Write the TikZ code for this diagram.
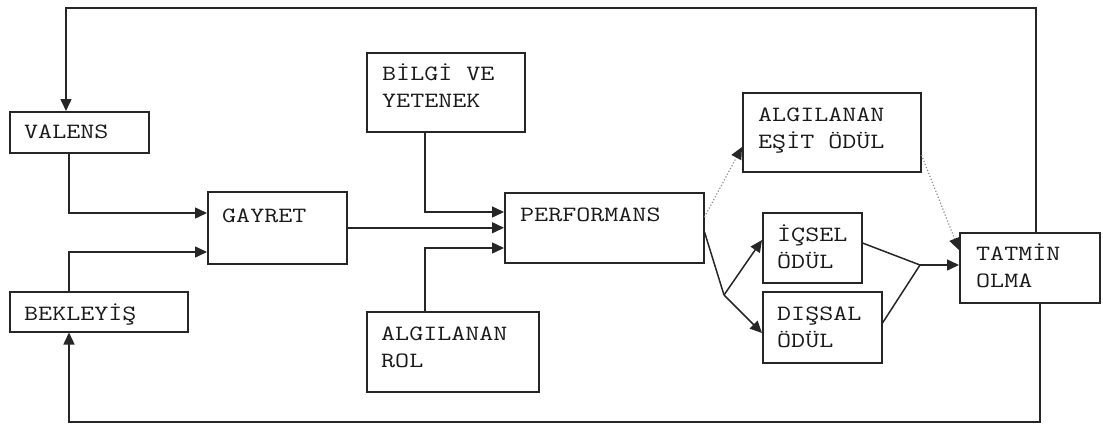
\documentclass[tikz,border=0pt]{standalone}
\usepackage{fontspec}
\newfontfamily\diagfont[FakeStretch=1.25]{Latin Modern Mono}
\usetikzlibrary{arrows.meta}
\begin{document}
\begin{tikzpicture}[x=1pt,y=-1pt,
  box/.style={draw=black!85,line width=1.5pt,rectangle,inner sep=0pt,anchor=north west},
  lbl/.style={anchor=base west,inner sep=0pt,align=left,font=\diagfont\fontsize{21.8}{27}\selectfont,text=black!90},
  arr/.style={draw=black!85,line width=1.5pt,-{Triangle[length=12pt,width=11pt]}},
  ln/.style={draw=black!85,line width=1.5pt},
  dot/.style={draw=black!45,line width=1.2pt,dotted},
  dotarr/.style={dot,-{Triangle[length=12pt,width=11pt,color=black!85]}}]
\useasboundingbox (0,0) rectangle (1103,424);
% boxes
\node[box,minimum width=139pt,minimum height=41pt] (valens) at (9,111) {};
\node[box,minimum width=178pt,minimum height=40pt] (bekleyis) at (9,291) {};
\node[box,minimum width=139pt,minimum height=72pt] (gayret) at (207,191) {};
\node[box,minimum width=158pt,minimum height=79pt] (bilgi) at (366,52) {};
\node[box,minimum width=199pt,minimum height=70pt] (perf) at (504,192) {};
\node[box,minimum width=172pt,minimum height=80pt] (rol) at (366,311) {};
\node[box,minimum width=178pt,minimum height=79pt] (esit) at (742,92) {};
\node[box,minimum width=99pt,minimum height=70pt] (icsel) at (762,212) {};
\node[box,minimum width=119pt,minimum height=71pt] (dissal) at (762,291) {};
\node[box,minimum width=140pt,minimum height=70pt] (tatmin) at (959,232) {};
% labels (base west = baseline of the last line)
\node[lbl] (tvalens) at (24,138) {VALENS};
\node[lbl] (tbekleyis) at (24,320) {BEKLEYİŞ};
\node[lbl] (tgayret) at (222,222) {GAYRET};
\node[lbl] (tbilgi) at (382,107) {BİLGİ VE\\YETENEK};
\node[lbl] (tperf) at (520,221) {PERFORMANS};
\node[lbl] (trol) at (381,367) {ALGILANAN\\ROL};
\node[lbl] (tesit) at (758,148) {ALGILANAN\\EŞİT ÖDÜL};
\node[lbl] (ticsel) at (777,268) {İÇSEL\\ÖDÜL};
\node[lbl] (tdissal) at (777,347) {DIŞSAL\\ÖDÜL};
\node[lbl] (ttatmin) at (976,287) {TATMİN\\OLMA};
% junctions
\coordinate (j1) at (724,295);
\coordinate (j2) at (920,265);
\coordinate (topy) at (66,8);
\coordinate (boty) at (69,422);
% connectors
\draw[arr] ([xshift=77pt]tatmin.north west) |- (topy) -- ([xshift=57pt]valens.north west);
\draw[arr] ([xshift=81pt]tatmin.south west) |- (boty) -- ([xshift=60pt]bekleyis.south west);
\draw[arr] ([xshift=60pt]valens.south west) |- ([yshift=-22pt]gayret.north west);
\draw[arr] ([xshift=60pt]bekleyis.north west) |- ([yshift=-61pt]gayret.north west);
\draw[arr] (gayret.east) -- (gayret.east -| perf.west);
\draw[arr] ([xshift=59pt]bilgi.south west) |- ([yshift=-20pt]perf.north west);
\draw[arr] ([xshift=59pt]rol.north west) |- ([yshift=-56pt]perf.north west);
\draw[dotarr] ([yshift=-25pt]perf.north east) -- ([yshift=-55pt]esit.north west);
\draw[dotarr] ([yshift=-63pt]esit.north east) -- ([yshift=-18pt]tatmin.north west);
\draw[ln] ([yshift=-40pt]perf.north east) -- (j1);
\draw[arr] (j1) -- ([yshift=-28pt]icsel.north west);
\draw[arr] (j1) -- ([yshift=-42pt]dissal.north west);
\draw[ln] ([yshift=-31pt]icsel.north east) -- (j2);
\draw[ln] ([yshift=-32pt]dissal.north east) -- (j2);
\draw[arr] (j2) -- (j2 -| tatmin.west);
\end{tikzpicture}
\end{document}
